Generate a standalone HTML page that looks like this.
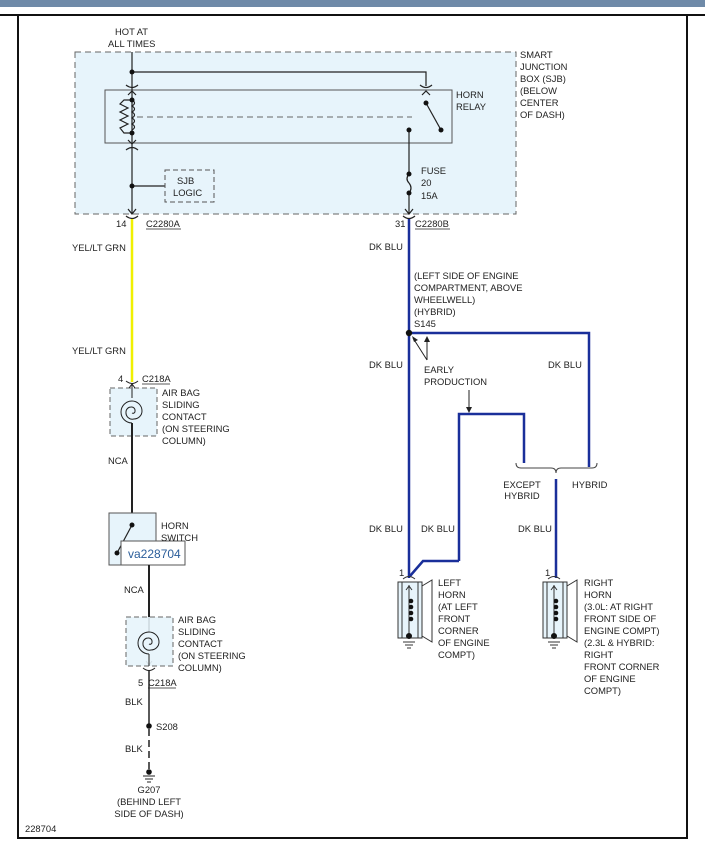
<!DOCTYPE html>
<html><head><style>
body{margin:0;background:#fff;}
svg{display:block;font-family:"Liberation Sans",Arial,sans-serif;font-size:9.4px;fill:#222;}
</style></head><body>
<svg width="705" height="857" viewBox="0 0 705 857" xmlns="http://www.w3.org/2000/svg">
<rect x="0" y="0" width="705" height="7" fill="#6f8aa8"/>
<line x1="0" y1="15" x2="705" y2="15" stroke="#111" stroke-width="2"/>
<path d="M18 15 V838 H687 V15" fill="none" stroke="#111" stroke-width="2"/>
<!-- SJB -->
<rect x="75" y="52" width="441" height="162" fill="#e7f4fb" stroke="#666" stroke-dasharray="6,4"/>
<rect x="105" y="90" width="347" height="53" fill="#e7f4fb" stroke="#555"/>
<g stroke="#222" fill="none" stroke-width="1.2">
<path d="M132 52 V214"/>
<path d="M132 72 H426 V86"/>
<path d="M126 85 Q132 90 138 85 M420 85 Q426 90 432 85"/>
<path d="M128 95 L132 91 L136 95 M422 95 L426 91 L430 95"/>
<path d="M126 150 Q132 145 138 150"/>
<path d="M128 140 L132 144 L136 140"/>
<path d="M132 100 H124 L120 104 L128 108 L120 112 L128 116 L120 120 L128 124 L120 128 L124 133 H132"/>
<path d="M132 100 q5 3 0 6 q5 3 0 6 q5 3 0 6 q5 3 0 6 q5 3 0 6"/>
<path d="M426 103 L441 130"/>
<path d="M409 130 V174 q-4 5 0 9 q4 5 0 10 V214"/>
<path d="M405 209 L409 214 L413 209"/>
<path d="M128 209 L132 214 L136 209"/>
<path d="M132 186 H165"/>
<path d="M126 216 Q132 221 138 216 M403 216 Q409 221 415 216"/>
</g>
<line x1="137" y1="117" x2="412" y2="117" stroke="#666" stroke-dasharray="6,4"/>
<rect x="165" y="170" width="49" height="32" fill="none" stroke="#555" stroke-dasharray="5,3"/>
<g fill="#111"><circle cx="132" cy="72" r="2.5"/><circle cx="132" cy="100" r="2.5"/><circle cx="132" cy="133" r="2.5"/><circle cx="426" cy="103" r="2.5"/><circle cx="441" cy="130" r="2.5"/><circle cx="409" cy="130" r="2.5"/><circle cx="409" cy="174" r="2.5"/><circle cx="409" cy="193" r="2.5"/><circle cx="132" cy="186" r="2.5"/></g>
<text x="115" y="35">HOT AT</text><text x="108" y="47">ALL TIMES</text>
<text x="177" y="184">SJB</text><text x="173" y="196">LOGIC</text>
<g><text x="520" y="58">SMART</text><text x="520" y="70">JUNCTION</text><text x="520" y="82">BOX (SJB)</text><text x="520" y="94">(BELOW</text><text x="520" y="106">CENTER</text><text x="520" y="118">OF DASH)</text></g>
<text x="456" y="98">HORN</text><text x="456" y="110">RELAY</text>
<text x="421" y="174">FUSE</text><text x="421" y="186">20</text><text x="421" y="199">15A</text>
<text x="116" y="227">14</text><text x="146" y="227">C2280A</text><line x1="146" y1="229" x2="181" y2="229" stroke="#222" stroke-width="0.8"/>
<text x="395" y="227">31</text><text x="415" y="227">C2280B</text><line x1="415" y1="229" x2="450" y2="229" stroke="#222" stroke-width="0.8"/>
<!-- yellow -->
<line x1="132" y1="219" x2="132" y2="382" stroke="#f0f000" stroke-width="2.5"/>
<text x="72" y="251">YEL/LT GRN</text><text x="72" y="354">YEL/LT GRN</text>
<!-- airbag 1 -->
<rect x="110" y="388" width="47" height="48" fill="#e7f4fb" stroke="#666" stroke-dasharray="5,3"/>
<g stroke="#222" fill="none" stroke-width="1">
<path d="M126 381 Q132 386 138 381"/><path d="M132 383 V398 M129 388 L132 384 L135 388"/>
<path d="M132 423 A11 11 0 1 1 132 401 A10 10 0 0 1 142 411 A8 8 0 0 1 134 419 A6.5 6.5 0 0 1 126 412 A5 5 0 0 1 131 407 A3.5 3.5 0 0 1 135 411 A2 2 0 0 1 132 413"/>
<path d="M149 623 V632"/>
<path d="M149 654 A11 11 0 1 1 149 632 A10 10 0 0 1 159 642 A8 8 0 0 1 151 650 A6.5 6.5 0 0 1 143 643 A5 5 0 0 1 148 638 A3.5 3.5 0 0 1 152 642 A2 2 0 0 1 149 644"/>
<path d="M149 654 V666 M146 661 L149 665 L152 661"/><path d="M143 668 Q149 673 155 668"/>
</g>
<line x1="132" y1="423" x2="132" y2="525" stroke="#222" stroke-width="2"/>
<text x="118" y="382">4</text><text x="142" y="382">C218A</text><line x1="142" y1="384" x2="170" y2="384" stroke="#222" stroke-width="0.8"/>
<g><text x="162" y="396">AIR BAG</text><text x="162" y="408">SLIDING</text><text x="162" y="420">CONTACT</text><text x="162" y="432">(ON STEERING</text><text x="162" y="444">COLUMN)</text></g>
<text x="108" y="464">NCA</text>
<!-- horn switch -->
<rect x="109" y="513" width="47" height="52" fill="#e7f4fb" stroke="#555"/>
<line x1="132" y1="525" x2="117" y2="553" stroke="#222" stroke-width="1.2"/>
<circle cx="132" cy="525" r="2.5" fill="#111"/><circle cx="117" cy="553" r="2.5" fill="#111"/>
<rect x="121" y="541" width="64" height="24" fill="#fff" stroke="#555"/>
<text x="128" y="558" style="font-size:12px;fill:#2a5d9a">va228704</text>
<text x="161" y="529">HORN</text><text x="161" y="541">SWITCH</text>
<line x1="149" y1="565" x2="149" y2="632" stroke="#222" stroke-width="2"/>
<text x="124" y="593">NCA</text>
<rect x="126" y="617" width="47" height="49" fill="#e7f4fb" stroke="#666" stroke-dasharray="5,3" fill-opacity="0.9"/>
<path d="M149 654 A11 11 0 1 1 149 632 A10 10 0 0 1 159 642 A8 8 0 0 1 151 650 A6.5 6.5 0 0 1 143 643 A5 5 0 0 1 148 638 A3.5 3.5 0 0 1 152 642 A2 2 0 0 1 149 644 M149 654 V666" fill="none" stroke="#222"/>
<g><text x="178" y="623">AIR BAG</text><text x="178" y="635">SLIDING</text><text x="178" y="647">CONTACT</text><text x="178" y="659">(ON STEERING</text><text x="178" y="671">COLUMN)</text></g>
<text x="138" y="686">5</text><text x="148" y="686">C218A</text><line x1="148" y1="688" x2="176" y2="688" stroke="#222" stroke-width="0.8"/>
<line x1="149" y1="670" x2="149" y2="725" stroke="#222" stroke-width="1.5"/>
<circle cx="149" cy="726" r="2.8" fill="#111"/><text x="156" y="730">S208</text>
<line x1="149" y1="729" x2="149" y2="772" stroke="#222" stroke-width="1.5" stroke-dasharray="7,4"/>
<circle cx="149" cy="772" r="2.8" fill="#111"/>
<path d="M143 776 H155 M145 779 H153 M147 782 H151" stroke="#222"/>
<text x="125" y="705">BLK</text><text x="125" y="752">BLK</text>
<text x="149" y="793" text-anchor="middle">G207</text><text x="149" y="805" text-anchor="middle">(BEHIND LEFT</text><text x="149" y="817" text-anchor="middle">SIDE OF DASH)</text>
<text x="25" y="832">228704</text>
<!-- blue -->
<g stroke="#1a2f9a" stroke-width="2.5" fill="none">
<path d="M409 219 V578"/>
<path d="M409 333 H589 V467"/>
<path d="M459 561 V414 H524 V463"/>
<path d="M459 561 H423 L410 576"/>
<path d="M556 479 V578"/>
</g>
<circle cx="409" cy="333" r="3.2" fill="#111"/>
<path d="M516 463 q0 5 5 5 H551 q5 0 5 5 q0 -5 5 -5 H592 q5 0 5 -5" fill="none" stroke="#444"/>
<g stroke="#222" fill="none"><path d="M427 360 L413 338 M427 360 V339 M469 390 V410"/></g>
<g fill="#222"><path d="M412 336 L418 340 L414 342Z"/><path d="M427 336 L424 342 H430Z"/><path d="M469 413 L466 407 H472Z"/></g>
<text x="369" y="250">DK BLU</text><text x="369" y="368">DK BLU</text><text x="369" y="532">DK BLU</text><text x="421" y="532">DK BLU</text><text x="548" y="368">DK BLU</text><text x="518" y="532">DK BLU</text>
<g><text x="414" y="279">(LEFT SIDE OF ENGINE</text><text x="414" y="291">COMPARTMENT, ABOVE</text><text x="414" y="303">WHEELWELL)</text><text x="414" y="315">(HYBRID)</text><text x="414" y="327">S145</text></g>
<text x="424" y="373">EARLY</text><text x="424" y="385">PRODUCTION</text>
<text x="522" y="488" text-anchor="middle">EXCEPT</text><text x="522" y="499" text-anchor="middle">HYBRID</text><text x="572" y="488">HYBRID</text>
<!-- horns -->
<g stroke="#333" fill="none">
<rect x="398" y="582" width="24" height="56" fill="#e7f4fb"/><rect x="402" y="582" width="16" height="56"/>
<path d="M422 586 L432 580 V642 L422 636"/>
<rect x="543" y="582" width="24" height="56" fill="#e7f4fb"/><rect x="547" y="582" width="16" height="56"/>
<path d="M567 586 L577 580 V642 L567 636"/>
<path d="M403 579 Q409 574 415 579 M548 579 Q554 574 560 579"/>
<path d="M409 585 V637 M406 590 L409 586 L412 590 M554 585 V637 M551 590 L554 586 L557 590"/>
<path d="M403 642 H415 M405 645 H413 M407 648 H411 M548 642 H560 M550 645 H558 M552 648 H556"/>
</g>
<g fill="#111"><circle cx="411" cy="601" r="2.3"/><circle cx="411" cy="607" r="2.3"/><circle cx="411" cy="613" r="2.3"/><circle cx="411" cy="619" r="2.3"/><circle cx="409" cy="636" r="3"/>
<circle cx="556" cy="601" r="2.3"/><circle cx="556" cy="607" r="2.3"/><circle cx="556" cy="613" r="2.3"/><circle cx="556" cy="619" r="2.3"/><circle cx="554" cy="636" r="3"/></g>
<text x="399" y="576">1</text><text x="545" y="576">1</text>
<g><text x="438" y="586">LEFT</text><text x="438" y="598">HORN</text><text x="438" y="610">(AT LEFT</text><text x="438" y="622">FRONT</text><text x="438" y="634">CORNER</text><text x="438" y="646">OF ENGINE</text><text x="438" y="658">COMPT)</text></g>
<g><text x="584" y="586">RIGHT</text><text x="584" y="598">HORN</text><text x="584" y="610">(3.0L: AT RIGHT</text><text x="584" y="622">FRONT SIDE OF</text><text x="584" y="634">ENGINE COMPT)</text><text x="584" y="646">(2.3L &amp; HYBRID:</text><text x="584" y="658">RIGHT</text><text x="584" y="670">FRONT CORNER</text><text x="584" y="682">OF ENGINE</text><text x="584" y="694">COMPT)</text></g>
</svg>
</body></html>
